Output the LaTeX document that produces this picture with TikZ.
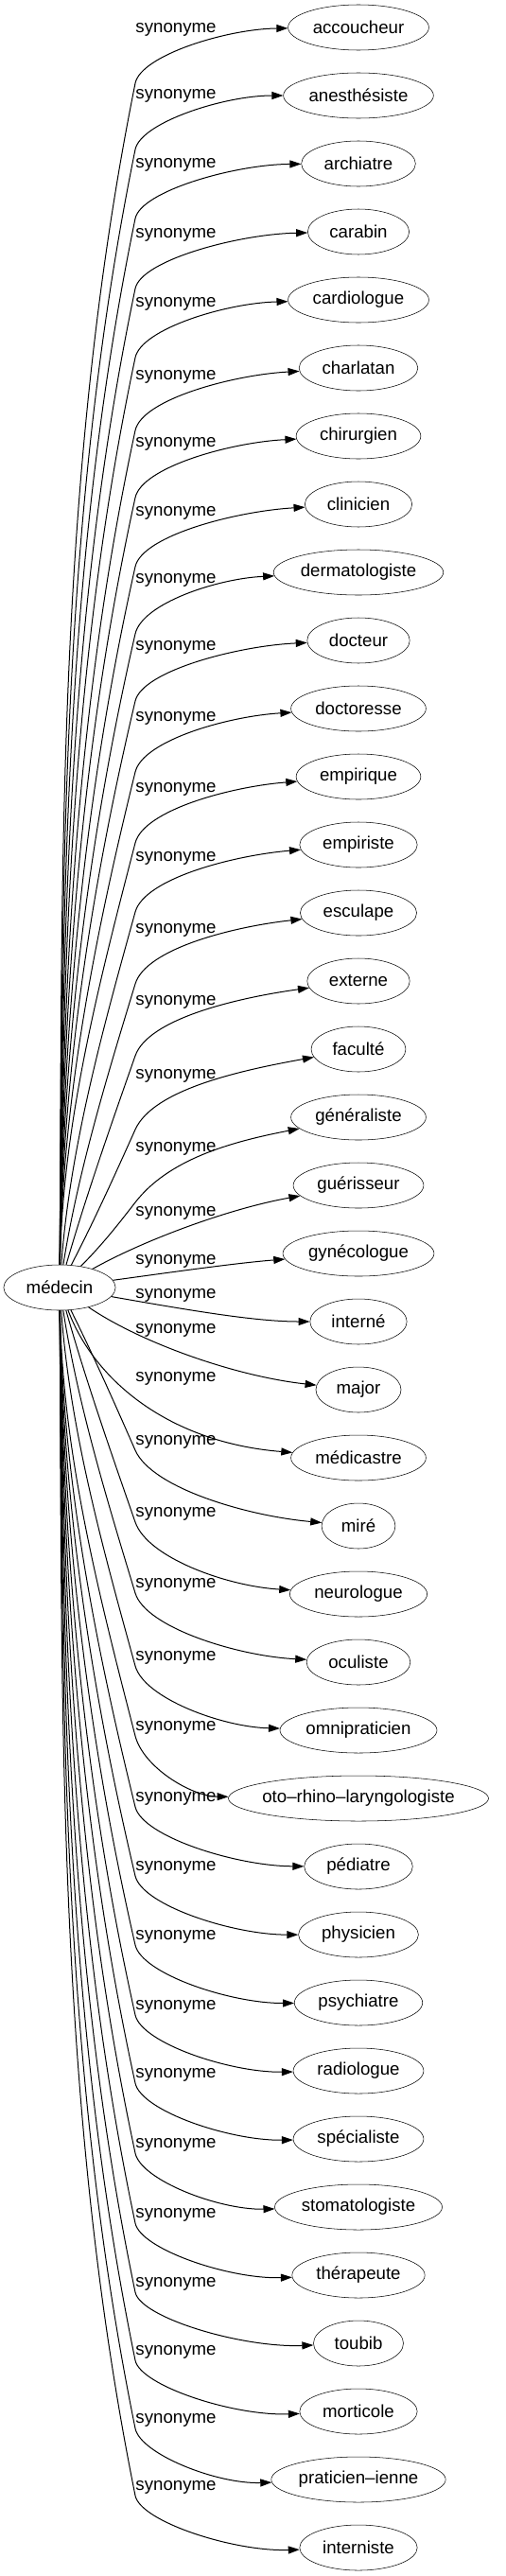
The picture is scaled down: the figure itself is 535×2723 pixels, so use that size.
\documentclass[tikz,border=0pt]{standalone}
\usepackage{fontspec}
\setmainfont{Liberation Sans}
\usetikzlibrary{arrows.meta,shapes.geometric}
\newlength\motlen
\newcommand\nodefont{\fontsize{14pt}{17pt}\selectfont}
% width of a word in the node font (the picture itself runs with \nullfont)
\newcommand\mesure[1]{\pgfinterruptpicture\settowidth\motlen{\nodefont #1}%
  \global\motlen=\motlen\endpgfinterruptpicture}
\begin{document}
\begin{tikzpicture}[x=0.75pt,y=-0.75pt,line join=round,
    mot/.style={draw,ellipse,inner sep=0pt,minimum height=36pt,font=\nodefont},
    lab/.style={inner sep=0pt,font=\nodefont},
    syn/.style={-{Triangle[length=9pt,width=6pt]},line width=0.75pt}]
  \useasboundingbox (0,0) rectangle (535,2723);
  \mesure{médecin}
  \node[mot,minimum width={1.18*\motlen+26.25pt}] (med) at (63,1361) {\makebox[0pt]{médecin}};
  \foreach \i/\ly/\txt in {0/31/accoucheur,1/101/anesthésiste,2/174/archiatre,3/248/carabin,
      4/321/cardiologue,5/398/charlatan,6/469/chirurgien,7/542/clinicien,8/613/dermatologiste,
      9/684/docteur,10/759/doctoresse,11/834/empirique,12/907/empiriste,13/983/esculape,
      14/1059/externe,15/1137/faculté,16/1214/généraliste,17/1282/guérisseur,18/1333/gynécologue,
      19/1369/interné,20/1406/major,21/1457/médicastre,22/1524/miré,23/1600/neurologue,
      24/1675/oculiste,25/1752/omnipraticien,26/1826/oto–rhino–laryngologiste,27/1901/pédiatre,
      28/1974/physicien,29/2047/psychiatre,30/2121/radiologue,31/2193/spécialiste,
      32/2267/stomatologiste,33/2341/thérapeute,34/2414/toubib,35/2486/morticole,
      36/2558/praticien–ienne,37/2629/interniste}{
    \mesure{\txt}
    \pgfmathsetmacro\ty{29+72*\i}
    \pgfmathsetmacro\wx{379-(1.18*\motlen+26.25)/1.5}
    \pgfmathsetmacro\ex{\wx-0.4*(\wx-143)}
    \node[mot,minimum width={1.18*\motlen+26.25pt}] (t\i) at (379,\ty) {\makebox[0pt]{\txt}};
    \node[lab] (l\i) at (186,\ly) {synonyme};
    % above medecin
    \ifnum\i<17
      \pgfmathsetmacro\by{\ly+57}
      \pgfmathsetmacro\dd{1337-\by}
      \pgfmathsetmacro\kk{0.17+40/\dd}
      \pgfmathsetmacro\ax{max(66,143-\kk*2*\dd/3)}
      \pgfmathsetmacro\ay{\by+2*\dd/3}
      \pgfmathsetmacro\bx{143-\kk*\dd/3}
      \pgfmathsetmacro\byy{\by+\dd/3}
      \pgfmathsetmacro\sv{0.5*(\by-\ty)}
      \pgfmathsetmacro\cx{143+\kk*\sv}
      \pgfmathsetmacro\cy{\by-\sv}
      \pgfmathsetmacro\ey{\ty+0.8*(\ly-\ty)}
      \draw[syn] (med) .. controls (\ax,\ay) and (\bx,\byy) .. (143,\by)
        .. controls (\cx,\cy) and (\ex,\ey) .. (t\i);
    \fi
    % below medecin
    \ifnum\i>21
      \pgfmathsetmacro\by{\ly+9}
      \pgfmathsetmacro\dd{\by-1385}
      \pgfmathsetmacro\kk{0.17+40/\dd}
      \pgfmathsetmacro\ax{max(66,143-\kk*2*\dd/3)}
      \pgfmathsetmacro\ay{\by-2*\dd/3}
      \pgfmathsetmacro\bx{143-\kk*\dd/3}
      \pgfmathsetmacro\byy{\by-\dd/3}
      \pgfmathsetmacro\sv{0.5*(\ty-\by)}
      \pgfmathsetmacro\cx{143+\kk*\sv}
      \pgfmathsetmacro\cy{\by+\sv}
      \pgfmathsetmacro\ey{\ty+5-0.6*(\ty-\by-54)}
      \draw[syn] (med) .. controls (\ax,\ay) and (\bx,\byy) .. (143,\by)
        .. controls (\cx,\cy) and (\ex,\ey) .. (t\i);
    \fi
  }
  % the ones next to medecin
  \draw[syn] (med) .. controls (150,1312) and (240,1278) .. (t17);
  \draw[syn] (med) .. controls (180,1345) and (250,1335) .. (t18);
  \draw[syn] (med) .. controls (200,1385) and (270,1397) .. (t19);
  \draw[syn] (med) .. controls (150,1420) and (250,1455) .. (t20);
  \draw[syn] (med) .. controls (100,1460) and (180,1525) .. (t21);
\end{tikzpicture}
\end{document}
